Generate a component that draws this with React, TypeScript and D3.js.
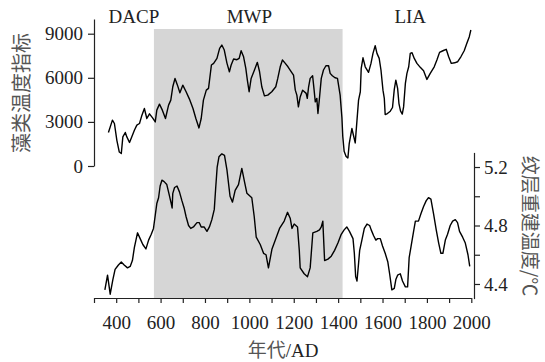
import React, { useEffect, useRef } from 'react';
import * as d3 from 'd3';

// algal temperature index (top curve)
const algaeYears = [365, 383, 392, 403, 414, 423, 430, 441, 448, 460, 470, 482, 493, 505, 516, 527, 538, 550, 564, 576, 583, 595, 608, 622, 636, 646, 655, 665, 676, 687, 700, 715, 730, 746, 759, 773, 783, 793, 806, 816, 829, 839, 854, 866, 876, 887, 899, 910, 918, 929, 944, 954, 963, 974, 984, 991, 999, 1008, 1023, 1036, 1046, 1056, 1068, 1083, 1101, 1119, 1128, 1139, 1149, 1162, 1174, 1189, 1199, 1207, 1214, 1221, 1229, 1240, 1248, 1256, 1261, 1267, 1274, 1285, 1291, 1297, 1304, 1309, 1315, 1324, 1334, 1345, 1357, 1364, 1374, 1386, 1397, 1409, 1417, 1421, 1427, 1436, 1444, 1450, 1462, 1469, 1477, 1485, 1492, 1500, 1504, 1512, 1522, 1537, 1548, 1557, 1567, 1575, 1585, 1593, 1602, 1608, 1612, 1622, 1635, 1645, 1653, 1660, 1668, 1674, 1681, 1689, 1695, 1703, 1710, 1718, 1725, 1733, 1743, 1755, 1770, 1785, 1800, 1815, 1833, 1845, 1857, 1872, 1887, 1898, 1910, 1925, 1938, 1953, 1968, 1980, 1991, 1998];
const algaeValues = [2280, 3120, 2890, 1750, 950, 850, 1980, 2280, 1980, 1600, 1980, 2430, 2780, 2890, 3460, 3910, 3230, 3550, 3270, 3000, 3800, 4210, 3800, 3230, 4140, 4480, 5390, 5960, 5500, 4980, 5500, 5050, 4550, 3910, 3230, 2590, 3230, 4480, 5160, 5280, 6870, 6980, 7320, 8000, 8230, 7890, 7000, 6410, 6870, 7280, 7230, 7320, 7840, 7430, 6640, 5840, 5050, 5960, 6530, 7050, 6410, 5390, 4770, 4820, 5050, 5390, 5960, 6750, 7210, 6980, 6750, 6410, 6180, 5160, 4820, 4020, 4700, 5160, 5050, 4940, 4600, 5390, 5960, 6140, 5280, 4360, 4600, 3570, 4480, 5960, 6530, 6820, 6820, 6300, 6140, 6000, 5960, 4820, 3300, 2000, 1000, 650, 550, 1530, 2550, 2090, 1570, 3120, 4480, 5050, 6640, 7360, 6750, 6370, 6980, 7660, 8180, 7660, 7320, 6530, 5160, 4600, 3500, 3570, 3730, 3980, 5210, 5840, 5280, 4250, 3750, 3530, 4020, 5620, 6300, 6750, 7660, 7710, 7320, 6980, 6710, 6480, 5890, 6300, 6750, 7210, 7730, 7840, 7940, 7430, 6980, 7020, 7090, 7430, 7840, 8350, 8800, 9250];

// varve reconstructed temperature (bottom curve)
const varveYears = [349, 361, 373, 385, 395, 410, 423, 436, 451, 463, 473, 482, 496, 508, 520, 534, 546, 558, 568, 576, 583, 591, 598, 606, 616, 628, 639, 648, 652, 655, 663, 674, 685, 696, 706, 715, 726, 736, 748, 764, 774, 783, 796, 809, 820, 831, 842, 848, 855, 863, 876, 888, 899, 913, 924, 936, 951, 966, 978, 989, 1011, 1022, 1031, 1049, 1064, 1075, 1086, 1102, 1117, 1136, 1157, 1172, 1184, 1192, 1202, 1217, 1225, 1229, 1247, 1262, 1274, 1286, 1304, 1316, 1324, 1331, 1339, 1354, 1369, 1384, 1399, 1414, 1427, 1439, 1451, 1467, 1473, 1479, 1485, 1492, 1497, 1507, 1518, 1530, 1542, 1549, 1560, 1570, 1578, 1590, 1600, 1612, 1624, 1632, 1642, 1653, 1660, 1668, 1680, 1690, 1703, 1713, 1720, 1729, 1740, 1748, 1762, 1773, 1785, 1797, 1807, 1818, 1830, 1842, 1853, 1863, 1872, 1883, 1893, 1905, 1916, 1928, 1938, 1947, 1961, 1973, 1985, 1993];
const varveTemps = [4.36, 4.46, 4.33, 4.43, 4.50, 4.53, 4.55, 4.53, 4.51, 4.52, 4.56, 4.65, 4.75, 4.71, 4.67, 4.64, 4.70, 4.74, 4.78, 4.87, 4.95, 4.99, 5.07, 5.11, 5.10, 5.08, 5.01, 4.95, 4.92, 5.02, 5.06, 5.07, 5.03, 4.97, 4.92, 4.86, 4.80, 4.78, 4.79, 4.82, 4.82, 4.79, 4.79, 4.76, 4.79, 4.84, 4.91, 5.05, 5.20, 5.27, 5.29, 5.28, 5.18, 5.00, 4.96, 5.04, 5.08, 5.19, 5.10, 5.02, 4.99, 4.86, 4.72, 4.67, 4.61, 4.60, 4.51, 4.64, 4.70, 4.78, 4.83, 4.89, 4.85, 4.78, 4.81, 4.79, 4.63, 4.51, 4.47, 4.45, 4.51, 4.75, 4.76, 4.77, 4.79, 4.83, 4.56, 4.57, 4.59, 4.63, 4.68, 4.74, 4.77, 4.79, 4.76, 4.71, 4.61, 4.45, 4.42, 4.54, 4.63, 4.70, 4.78, 4.81, 4.80, 4.77, 4.73, 4.70, 4.71, 4.71, 4.66, 4.61, 4.55, 4.47, 4.36, 4.37, 4.43, 4.46, 4.47, 4.42, 4.38, 4.38, 4.58, 4.66, 4.76, 4.83, 4.83, 4.88, 4.93, 4.97, 4.99, 4.98, 4.88, 4.77, 4.68, 4.61, 4.61, 4.70, 4.74, 4.80, 4.83, 4.84, 4.82, 4.76, 4.72, 4.68, 4.60, 4.52];

const yearTicks = [300, 400, 500, 600, 700, 800, 900, 1000, 1100, 1200, 1300, 1400, 1500, 1600, 1700, 1800, 1900, 2000];
const algaeTicks = [0, 3000, 6000, 9000];
const tempTicks = [4.4, 4.6, 4.8, 5.0, 5.2];

const periodNames = ['DACP', 'MWP', 'LIA'];
const periodYears = [480, 1000, 1725];
const mwpSpan = [570, 1420];

const numFont = '"Liberation Serif", "Times New Roman", serif';
const cjkFont = '"Noto Sans CJK SC", sans-serif';

const App = () => {
    const svgRef = useRef(null);

    useEffect(() => {
        const svg = d3.select(svgRef.current);
        svg.selectAll('*').remove();

        const width = 545;
        const height = 362;
        svg.attr('width', width).attr('height', height);

        const x = d3.scaleLinear().domain([300, 2000]).range([94, 471.3]);
        const yTop = d3.scaleLinear().domain([0, 10000]).range([166, 19]);
        const yBot = d3.scaleLinear().domain([4.3, 5.3]).range([298.6, 152.4]);

        // MWP shaded band
        svg.append('rect')
            .attr('x', x(mwpSpan[0]))
            .attr('y', 29)
            .attr('width', x(mwpSpan[1]) - x(mwpSpan[0]))
            .attr('height', 298 - 29)
            .attr('fill', '#d6d6d6');

        // lines
        const topData = algaeYears.map((yr, i) => [yr, algaeValues[i]]);
        const botData = varveYears.map((yr, i) => [yr, varveTemps[i]]);

        svg.append('path')
            .datum(topData)
            .attr('fill', 'none')
            .attr('stroke', '#000')
            .attr('stroke-width', 1.4)
            .attr('stroke-linejoin', 'round')
            .attr('d', d3.line().x(d => x(d[0])).y(d => yTop(d[1])));

        svg.append('path')
            .datum(botData)
            .attr('fill', 'none')
            .attr('stroke', '#000')
            .attr('stroke-width', 1.4)
            .attr('stroke-linejoin', 'round')
            .attr('d', d3.line().x(d => x(d[0])).y(d => yBot(d[1])));

        const styleAxis = (g) => {
            g.select('.domain').attr('stroke', '#222').attr('stroke-width', 1.2);
            g.selectAll('.tick line').attr('stroke', '#222').attr('stroke-width', 1.2);
            g.selectAll('.tick text')
                .attr('fill', '#222')
                .style('font-family', numFont)
                .style('font-size', '19px');
        };

        // bottom axis
        svg.append('g')
            .attr('transform', 'translate(0,298)')
            .call(d3.axisBottom(x)
                .tickValues(yearTicks)
                .tickSize(5)
                .tickSizeOuter(0)
                .tickPadding(13)
                .tickFormat(d => (d % 200 === 0 ? String(d) : '')))
            .call(styleAxis);

        // left axis
        svg.append('g')
            .attr('transform', 'translate(94,0)')
            .call(d3.axisLeft(yTop)
                .tickValues(algaeTicks)
                .tickSize(6)
                .tickSizeOuter(0)
                .tickPadding(5)
                .tickFormat(d3.format('d')))
            .call(styleAxis);

        // right axis
        svg.append('g')
            .attr('transform', 'translate(474,0)')
            .call(d3.axisRight(yBot)
                .tickValues(tempTicks)
                .tickSize(6)
                .tickSizeOuter(0)
                .tickPadding(4)
                .tickFormat(d => (Math.abs(d * 10 % 4) < 0.01 ? d3.format('.1f')(d) : '')))
            .call(styleAxis);

        // period labels
        svg.selectAll('.period')
            .data(periodNames)
            .join('text')
            .attr('class', 'period')
            .attr('x', (d, i) => x(periodYears[i]))
            .attr('y', 23)
            .attr('text-anchor', 'middle')
            .attr('fill', '#222')
            .style('font-family', numFont)
            .style('font-size', '19px')
            .text(d => d);

        // axis titles
        svg.append('text')
            .attr('transform', 'translate(29,93) rotate(-90)')
            .attr('text-anchor', 'middle')
            .attr('fill', '#555')
            .style('font-family', cjkFont)
            .style('font-size', '20px')
            .text('藻类温度指标');

        svg.append('text')
            .attr('transform', 'translate(523,226) rotate(90)')
            .attr('text-anchor', 'middle')
            .attr('fill', '#555')
            .style('font-family', cjkFont)
            .style('font-size', '19px')
            .text('纹层重建温度/℃');

        const xTitle = svg.append('text')
            .attr('x', 283)
            .attr('y', 357)
            .attr('text-anchor', 'middle')
            .attr('fill', '#555')
            .style('font-size', '19px');
        xTitle.append('tspan').style('font-family', cjkFont).text('年代');
        xTitle.append('tspan').style('font-family', numFont).attr('fill', '#222').text('/AD');
    }, []);

    return (
        <div style={{ position: 'absolute', left: 0, top: 0 }}>
            <svg ref={svgRef}></svg>
        </div>
    );
};

export default App;
